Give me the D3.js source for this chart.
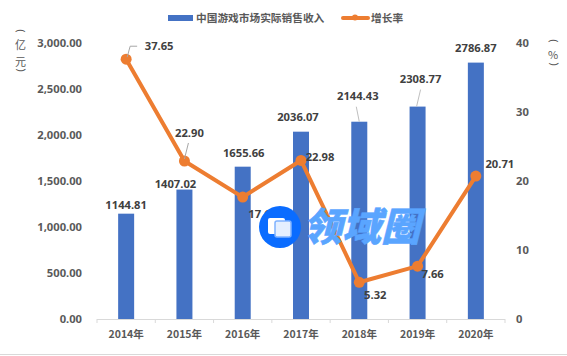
<!DOCTYPE html>
<html>
<head>
<meta charset="utf-8">
<script src="https://cdn.jsdelivr.net/npm/d3@7"></script>
<style>
  html, body { margin: 0; padding: 0; background: #fff; }
  text { font-family: "Noto Sans CJK SC", "DejaVu Sans", sans-serif; }
</style>
</head>
<body>
<div id="chart"></div>
<script>
const years = ["2014年", "2015年", "2016年", "2017年", "2018年", "2019年", "2020年"];
const revenue = [1144.81, 1407.02, 1655.66, 2036.07, 2144.43, 2308.77, 2786.87];
const growth = [37.65, 22.90, 17.67, 22.98, 5.32, 7.66, 20.71];
const leftTicks = [0, 500, 1000, 1500, 2000, 2500, 3000];
const rightTicks = [0, 10, 20, 30, 40];

// label offsets from the mark, hand placed like the original
const revenueLabelOffset = [[0, -5], [-9, -1.5], [1, -10], [-3, -11], [-1.5, -22], [3, -24], [0, -11]];
const growthLabelOffset = [[33, -9], [5, -24], [20, 21], [19, 1], [16, 17], [15, 12], [24, -8]];

const width = 567, height = 356;
const margin = { top: 43, right: 62, bottom: 37, left: 97 };
const innerW = width - margin.left - margin.right;
const innerH = height - margin.top - margin.bottom;
const numFont = "'Noto Sans', sans-serif";
const numSize = 11.2;

const svg = d3.select("#chart").append("svg")
    .attr("width", width)
    .attr("height", height)
    .style("display", "block");

const g = svg.append("g")
    .attr("transform", "translate(" + margin.left + "," + margin.top + ")");

const x = d3.scaleBand().domain(years).range([0, innerW]);
const yLeft = d3.scaleLinear().domain([0, 3000]).range([innerH, 0]);
const yRight = d3.scaleLinear().domain([0, 40]).range([innerH, 0]);
const cx = d => x(d) + x.bandwidth() / 2;

// bottom border of the picture
svg.append("line")
    .attr("x1", 0).attr("x2", width)
    .attr("y1", 354.5).attr("y2", 354.5)
    .attr("stroke", "#d9d9d9");

// axes
const xAxis = g.append("g")
    .attr("transform", "translate(0," + innerH + ")")
    .call(d3.axisBottom(x).tickSize(0).tickPadding(12));
xAxis.select(".domain").remove();
xAxis.selectAll("text")
    .attr("fill", "#595959").attr("font-size", 10.5).attr("font-weight", "bold");

// tick marks sit between the categories
const xEdges = years.map(d => x(d)).concat([innerW]);
g.selectAll(".edge").data(xEdges).enter().append("line")
    .attr("class", "edge")
    .attr("x1", d => d).attr("x2", d => d)
    .attr("y1", innerH).attr("y2", innerH + 4)
    .attr("stroke", "#d9d9d9");
g.append("line")
    .attr("x1", 0).attr("x2", innerW)
    .attr("y1", innerH + 0.5).attr("y2", innerH + 0.5)
    .attr("stroke", "#d9d9d9");

const leftAxis = g.append("g")
    .call(d3.axisLeft(yLeft).tickValues(leftTicks).tickSize(0).tickPadding(15).tickFormat(d3.format(",.2f")));
leftAxis.select(".domain").remove();
leftAxis.selectAll("text")
    .attr("fill", "#595959").attr("font-size", numSize).attr("font-weight", "bold")
    .style("font-family", numFont);

const rightAxis = g.append("g")
    .attr("transform", "translate(" + innerW + ",0)")
    .call(d3.axisRight(yRight).tickValues(rightTicks).tickSize(0).tickPadding(11));
rightAxis.select(".domain").remove();
rightAxis.selectAll("text")
    .attr("fill", "#595959").attr("font-size", numSize).attr("font-weight", "bold")
    .style("font-family", numFont);

// axis titles, set vertically with turned brackets
function bracket(px, py, turn) {
    svg.append("text")
        .attr("transform", "translate(" + px + "," + py + ") rotate(" + turn + ")")
        .attr("text-anchor", "middle")
        .attr("dominant-baseline", "central")
        .attr("fill", "#595959").attr("font-size", 11)
        .style("font-family", "'DejaVu Sans', sans-serif")
        .text("(");
}
function titleChar(px, py, s) {
    svg.append("text")
        .attr("x", px).attr("y", py)
        .attr("text-anchor", "middle")
        .attr("dominant-baseline", "central")
        .attr("fill", "#595959").attr("font-size", 11)
        .text(s);
}
bracket(20.5, 31, 90);
titleChar(20.5, 44, "亿");
titleChar(20.5, 61, "元");
bracket(20.5, 70, -90);
bracket(553, 41, 90);
titleChar(553, 54, "%");
bracket(553, 64, -90);

// bars
g.selectAll(".bar").data(revenue).enter().append("rect")
    .attr("class", "bar")
    .attr("x", (d, i) => cx(years[i]) - 8)
    .attr("width", 16)
    .attr("y", d => yLeft(d))
    .attr("height", d => innerH - yLeft(d))
    .attr("fill", "#4472c4");

// leader lines of the labels that were dragged away
const revenueLeaders = [
    { i: 4, pts: [[0, 0], [-3, -15]] },
    { i: 5, pts: [[-1, 0], [3, -17]] }
];
const growthLeaders = [
    { i: 0, pts: [[1, -2], [4, -13], [11, -13]] },
    { i: 1, pts: [[0, -2], [4, -18]] }
];
const leaderLine = d3.line();
g.selectAll(".revLeader").data(revenueLeaders).enter().append("path")
    .attr("class", "revLeader")
    .attr("d", d => leaderLine(d.pts.map(p => [cx(years[d.i]) + p[0], yLeft(revenue[d.i]) + p[1]])))
    .attr("fill", "none").attr("stroke", "#bfbfbf");

// growth line
const line = d3.line()
    .x((d, i) => cx(years[i]))
    .y(d => yRight(d));
g.append("path")
    .datum(growth)
    .attr("d", line)
    .attr("fill", "none")
    .attr("stroke", "#ed7d31")
    .attr("stroke-width", 4);
g.selectAll(".dot").data(growth).enter().append("circle")
    .attr("class", "dot")
    .attr("cx", (d, i) => cx(years[i]))
    .attr("cy", d => yRight(d))
    .attr("r", 5.5)
    .attr("fill", "#ed7d31");
g.selectAll(".growLeader").data(growthLeaders).enter().append("path")
    .attr("class", "growLeader")
    .attr("d", d => leaderLine(d.pts.map(p => [cx(years[d.i]) + p[0], yRight(growth[d.i]) + p[1]])))
    .attr("fill", "none").attr("stroke", "#a6a6a6");

// data labels
g.selectAll(".revLabel").data(revenue).enter().append("text")
    .attr("class", "revLabel")
    .attr("x", (d, i) => cx(years[i]) + revenueLabelOffset[i][0])
    .attr("y", (d, i) => yLeft(d) + revenueLabelOffset[i][1])
    .attr("text-anchor", "middle")
    .attr("fill", "#404040").attr("font-size", numSize).attr("font-weight", "bold")
    .style("font-family", numFont)
    .text(d => d.toFixed(2));
g.selectAll(".growLabel").data(growth).enter().append("text")
    .attr("class", "growLabel")
    .attr("x", (d, i) => cx(years[i]) + growthLabelOffset[i][0])
    .attr("y", (d, i) => yRight(d) + growthLabelOffset[i][1])
    .attr("text-anchor", "middle")
    .attr("fill", "#404040").attr("font-size", numSize).attr("font-weight", "bold")
    .style("font-family", numFont)
    .text(d => d.toFixed(2));

// legend
const legend = svg.append("g");
legend.append("rect")
    .attr("x", 168).attr("y", 15).attr("width", 25).attr("height", 6).attr("fill", "#4472c4");
legend.append("text")
    .attr("x", 196).attr("y", 22)
    .attr("fill", "#595959").attr("font-size", 10.7).attr("font-weight", "bold")
    .text("中国游戏市场实际销售收入");
legend.append("line")
    .attr("x1", 343).attr("x2", 368).attr("y1", 18).attr("y2", 18)
    .attr("stroke", "#ed7d31").attr("stroke-width", 4).attr("stroke-linecap", "round");
legend.append("circle")
    .attr("cx", 355).attr("cy", 17.5).attr("r", 3).attr("fill", "#ed7d31");
legend.append("text")
    .attr("x", 371).attr("y", 22)
    .attr("fill", "#595959").attr("font-size", 10.7).attr("font-weight", "bold")
    .text("增长率");

// watermark on top
const mark = svg.append("g");
mark.append("circle")
    .attr("cx", 280).attr("cy", 227).attr("r", 21).attr("fill", "#0a6cff");
mark.append("rect")
    .attr("x", 268).attr("y", 218).attr("width", 17).attr("height", 16).attr("rx", 2)
    .attr("fill", "#ffffff");
mark.append("rect")
    .attr("x", 275).attr("y", 221).attr("width", 16).attr("height", 16).attr("rx", 2)
    .attr("fill", "#e4efff").attr("stroke", "#7fb2ff").attr("stroke-width", 1.5);
mark.append("text")
    .attr("x", 303).attr("y", 241)
    .attr("fill", "#5aa5ff")
    .attr("stroke", "#5aa5ff").attr("stroke-width", 0.5)
    .attr("font-size", 39).attr("font-weight", "900").attr("font-style", "italic")
    .text("领域圈");
</script>
</body>
</html>
